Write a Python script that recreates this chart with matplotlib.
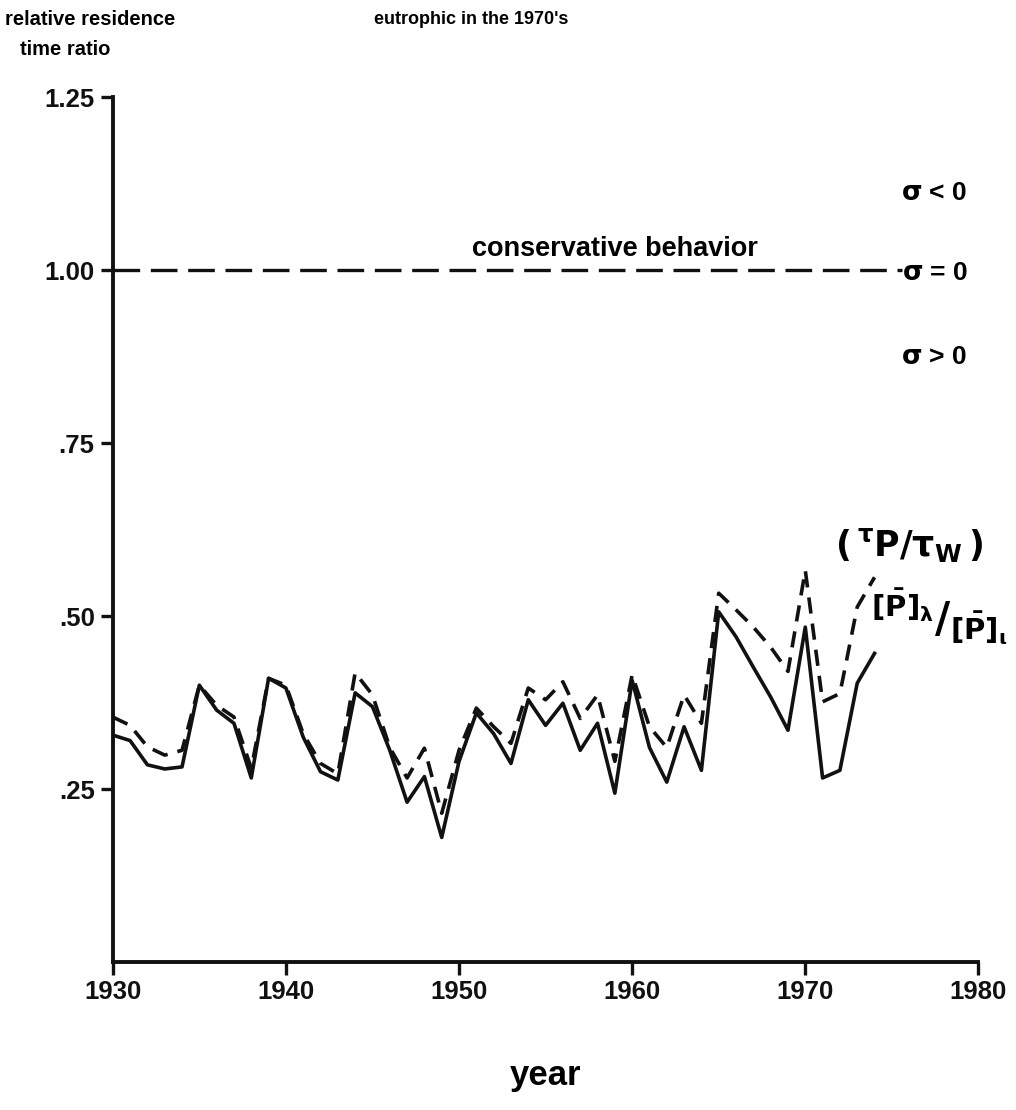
import matplotlib.pyplot as plt

# annual residence time ratios, 1930-1974
years = list(range(1930, 1975))
tau_ratio = [0.354, 0.342, 0.311, 0.299, 0.306, 0.400, 0.371, 0.354, 0.280, 0.410,
             0.400, 0.330, 0.287, 0.272, 0.418, 0.386, 0.310, 0.266, 0.309, 0.215,
             0.306, 0.367, 0.340, 0.316, 0.396, 0.379, 0.405, 0.352, 0.386, 0.290,
             0.415, 0.340, 0.310, 0.386, 0.345, 0.533, 0.509, 0.484, 0.455, 0.420,
             0.566, 0.376, 0.388, 0.513, 0.556]
p_ratio = [0.328, 0.320, 0.285, 0.279, 0.282, 0.400, 0.364, 0.345, 0.266, 0.410,
           0.396, 0.325, 0.275, 0.263, 0.389, 0.369, 0.306, 0.231, 0.268, 0.180,
           0.290, 0.360, 0.330, 0.287, 0.379, 0.342, 0.374, 0.306, 0.345, 0.244,
           0.407, 0.310, 0.260, 0.340, 0.277, 0.506, 0.470, 0.426, 0.383, 0.335,
           0.484, 0.266, 0.277, 0.403, 0.446]

conservative = 1.0
xticks = [1930, 1940, 1950, 1960, 1970, 1980]
yticks = [0.25, 0.50, 0.75, 1.00, 1.25]
ytick_labels = ['.25', '.50', '.75', '1.00', '1.25']

plt.rcParams['font.family'] = ['Liberation Sans', 'DejaVu Sans']
plt.rcParams['font.weight'] = 'bold'
plt.rcParams['mathtext.fontset'] = 'dejavusans'
plt.rcParams['mathtext.default'] = 'bf'

ink = '#111111'

fig = plt.figure(figsize=(10.16, 11.10), dpi=100)
ax = fig.add_axes([0.111, 0.1333, 0.852, 0.7793])

ax.plot(years, p_ratio, color=ink, lw=2.6)
ax.plot(years, tau_ratio, color=ink, lw=2.6, dashes=(4.5, 2.8))
ax.plot([1930, 1975.6], [conservative, conservative], color=ink, lw=2.4,
        dashes=(8, 3.2))

ax.set_xlim(1930, 1980)
ax.set_ylim(0, 1.25)
ax.set_xticks(xticks)
ax.set_yticks(yticks)
ax.set_yticklabels(ytick_labels)
ax.tick_params(axis='both', direction='out', length=9, width=2.4, labelsize=18.5,
               colors=ink, pad=4)
for side in ['top', 'right']:
    ax.spines[side].set_visible(False)
for side in ['left', 'bottom']:
    ax.spines[side].set_linewidth(2.8)
    ax.spines[side].set_color(ink)

# labels around the plot
fig.text(0.005, 0.982, 'relative residence', fontsize=14.5, ha='left', va='center')
fig.text(0.02, 0.955, 'time ratio', fontsize=14.5, ha='left', va='center')
fig.text(0.464, 0.982, "eutrophic in the 1970's", fontsize=13, ha='center', va='center')
fig.text(0.537, 0.031, 'year', fontsize=25, ha='center', va='center')

ax.text(1959.0, 1.03, 'conservative behavior', fontsize=19.5, ha='center', va='center')
ax.text(1975.5, 1.111, r'$\sigma$ < 0', fontsize=19, ha='left', va='center')
ax.text(1975.6, 0.995, r'$\sigma$ = 0', fontsize=19, ha='left', va='center')
ax.text(1975.5, 0.875, r'$\sigma$ > 0', fontsize=19, ha='left', va='center')

ax.text(1971.7, 0.603, r'$(\,{}^{\tau}\mathbf{P}/\tau_{\mathbf{W}}\,)$', fontsize=25,
        ha='left', va='center')
ax.text(1973.8, 0.50, r'$^{[\bar{\mathbf{P}}]_{\lambda}}/_{[\bar{\mathbf{P}}]_{\iota}}$',
        fontsize=30, ha='left', va='center')

fig.savefig('out.png', dpi=100, facecolor='white')
